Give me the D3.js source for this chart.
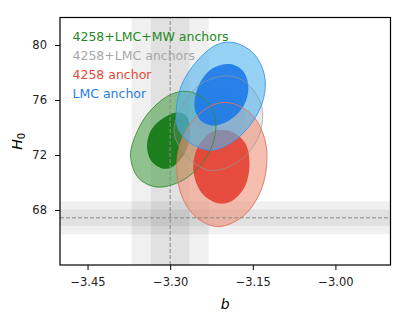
<!DOCTYPE html>
<html>
<head>
<meta charset="utf-8">
<script src="https://cdn.jsdelivr.net/npm/d3@7"></script>
<style>
  body { margin: 0; background: #fff; }
  svg { display: block; font-family: "DejaVu Sans", sans-serif; }
</style>
</head>
<body>
<div id="draw"></div>
<script>
// axis ranges and ticks
var bDomain = [-3.5, -2.9];
var hDomain = [64, 82];
var xTicks = [-3.45, -3.30, -3.15, -3.00];
var yTicks = [68, 72, 76, 80];

// reference values (dashed lines) with 1 and 2 sigma bands
var bRef = -3.30;
var bBands = [0.07, 0.035];
var hRef = 67.43;
var hBands = [1.2, 0.6];

var legendLabels = ['4258+LMC+MW anchors', '4258+LMC anchors', '4258 anchor', 'LMC anchor'];
var legendColors = ['#1f881f', '#a8a8a8', '#e5483a', '#1f7de6'];

// contours as [b, H0]
var greenOuter = [[-3.372,71.92],[-3.361,73.61],[-3.337,75.18],[-3.300,76.38],[-3.270,76.63],[-3.240,76.14],
  [-3.222,75.18],[-3.217,73.97],[-3.228,72.28],[-3.258,70.71],[-3.294,69.86],[-3.328,69.69],[-3.358,70.35]];
var greenInner = [[-3.342,72.64],[-3.334,73.85],[-3.312,74.69],[-3.288,75.10],[-3.270,74.81],[-3.264,73.61],
  [-3.273,72.16],[-3.294,71.19],[-3.312,71.00],[-3.334,71.55]];
var grayOuter = [[-3.293,73.61],[-3.279,75.54],[-3.246,77.11],[-3.198,77.76],[-3.161,77.23],[-3.134,75.54],
  [-3.137,73.61],[-3.161,72.04],[-3.198,71.07],[-3.231,70.90],[-3.270,71.92]];
var grayInner = [[-3.246,74.09],[-3.237,75.66],[-3.210,76.38],[-3.179,76.14],[-3.164,74.93],[-3.170,73.36],
  [-3.198,72.64],[-3.231,72.88]];
var redOuter = [[-3.288,71.19],[-3.279,73.12],[-3.252,74.81],[-3.216,75.73],[-3.185,75.73],[-3.149,74.81],
  [-3.128,73.12],[-3.125,71.19],[-3.137,69.26],[-3.167,67.57],[-3.213,66.79],[-3.252,67.45],[-3.279,69.02]];
var redInner = [[-3.258,70.95],[-3.249,72.64],[-3.222,73.73],[-3.191,73.73],[-3.164,72.88],[-3.156,71.43],
  [-3.164,69.74],[-3.188,68.65],[-3.213,68.49],[-3.243,69.26]];
var blueOuter = [[-3.289,75.30],[-3.279,77.11],[-3.252,78.80],[-3.216,80.01],[-3.185,80.18],[-3.149,79.40],
  [-3.129,77.83],[-3.131,76.02],[-3.152,74.33],[-3.185,73.00],[-3.225,72.35],[-3.264,72.88],[-3.285,73.85]];
var blueInner = [[-3.256,75.54],[-3.246,77.23],[-3.222,78.32],[-3.191,78.61],[-3.167,78.07],[-3.158,76.87],
  [-3.167,75.54],[-3.191,74.57],[-3.222,74.14],[-3.246,74.57]];

var W = 409, H = 326;
var margin = {left: 60, right: 18.5, top: 17.5, bottom: 61};

var svg = d3.select('#draw').append('svg').attr('width', W).attr('height', H);

var x = d3.scaleLinear().domain(bDomain).range([margin.left, W - margin.right]);
var y = d3.scaleLinear().domain(hDomain).range([H - margin.bottom, margin.top]);

svg.append('clipPath').attr('id', 'clip').append('rect')
  .attr('x', x.range()[0]).attr('y', y.range()[1])
  .attr('width', x.range()[1] - x.range()[0]).attr('height', y.range()[0] - y.range()[1]);

var plot = svg.append('g').attr('clip-path', 'url(#clip)');

// grey bands
bBands.forEach(function(s) {
  plot.append('rect')
    .attr('x', x(bRef - s)).attr('width', x(bRef + s) - x(bRef - s))
    .attr('y', y.range()[1]).attr('height', y.range()[0] - y.range()[1])
    .attr('fill', 'rgba(0,0,0,0.06)');
});
hBands.forEach(function(s) {
  plot.append('rect')
    .attr('x', x.range()[0]).attr('width', x.range()[1] - x.range()[0])
    .attr('y', y(hRef + s)).attr('height', y(hRef - s) - y(hRef + s))
    .attr('fill', 'rgba(0,0,0,0.06)');
});

var line = d3.line().x(function(d) { return x(d[0]); }).y(function(d) { return y(d[1]); })
  .curve(d3.curveCatmullRomClosed.alpha(0.5));

var contours = [
  {outer: greenOuter, inner: greenInner, fo: 'rgba(80,163,80,0.6)', fi: 'rgba(20,120,20,0.92)', edge: 'rgba(50,140,50,0.85)'},
  {outer: grayOuter, inner: grayInner, fo: 'rgba(150,150,150,0.22)', fi: 'rgba(140,140,140,0.2)', edge: 'rgba(150,150,150,0.7)'},
  {outer: redOuter, inner: redInner, fo: 'rgba(240,147,122,0.6)', fi: 'rgba(228,62,48,0.88)', edge: 'rgba(225,115,95,0.9)'},
  {outer: blueOuter, inner: blueInner, fo: 'rgba(80,180,238,0.6)', fi: 'rgba(25,118,232,0.88)', edge: 'rgba(60,150,232,0.9)'}
];

contours.forEach(function(c) {
  plot.append('path').attr('d', line(c.outer)).attr('fill', c.fo).attr('stroke', 'none');
  plot.append('path').attr('d', line(c.inner)).attr('fill', c.fi).attr('stroke', 'none');
});
contours.forEach(function(c) {
  plot.append('path').attr('d', line(c.outer)).attr('fill', 'none')
    .attr('stroke', c.edge).attr('stroke-width', 1);
});

// dashed reference lines
plot.append('line')
  .attr('x1', x(bRef)).attr('x2', x(bRef)).attr('y1', y.range()[0]).attr('y2', y.range()[1])
  .attr('stroke', '#888').attr('stroke-width', 1).attr('stroke-dasharray', '4,2');
plot.append('line')
  .attr('x1', x.range()[0]).attr('x2', x.range()[1]).attr('y1', y(hRef)).attr('y2', y(hRef))
  .attr('stroke', '#888').attr('stroke-width', 1).attr('stroke-dasharray', '4,2');

// axes
var xAxis = d3.axisBottom(x).tickValues(xTicks).tickFormat(d3.format('.2f')).tickSize(5).tickPadding(8);
var yAxis = d3.axisLeft(y).tickValues(yTicks).tickFormat(d3.format('d')).tickSize(5).tickPadding(8);

var gx = svg.append('g').attr('transform', 'translate(0,' + y.range()[0] + ')').call(xAxis);
var gy = svg.append('g').attr('transform', 'translate(' + x.range()[0] + ',0)').call(yAxis);
[gx, gy].forEach(function(g) {
  g.select('.domain').remove();
  g.selectAll('.tick line').attr('stroke', '#000').attr('stroke-width', 1);
  g.selectAll('.tick text').attr('font-size', 11.5).attr('fill', '#222')
    .attr('font-family', '"DejaVu Sans", sans-serif');
});

svg.append('rect')
  .attr('x', x.range()[0]).attr('y', y.range()[1])
  .attr('width', x.range()[1] - x.range()[0]).attr('height', y.range()[0] - y.range()[1])
  .attr('fill', 'none').attr('stroke', '#000').attr('stroke-width', 1.2);

// axis labels
svg.append('text')
  .attr('x', (x.range()[0] + x.range()[1]) / 2).attr('y', 309)
  .attr('text-anchor', 'middle').attr('font-size', 14).attr('font-style', 'italic')
  .text('b');

var yl = svg.append('text')
  .attr('transform', 'translate(22,' + ((y.range()[0] + y.range()[1]) / 2) + ') rotate(-90)')
  .attr('text-anchor', 'middle').attr('font-size', 14).attr('font-style', 'italic');
yl.append('tspan').text('H');
yl.append('tspan').attr('font-size', 10).attr('dy', 3).attr('font-style', 'normal').text('0');

// legend
legendLabels.forEach(function(t, i) {
  svg.append('text')
    .attr('x', 72.5).attr('y', 41 + i * 19)
    .attr('font-size', 12.5).attr('fill', legendColors[i])
    .text(t);
});
</script>
</body>
</html>
